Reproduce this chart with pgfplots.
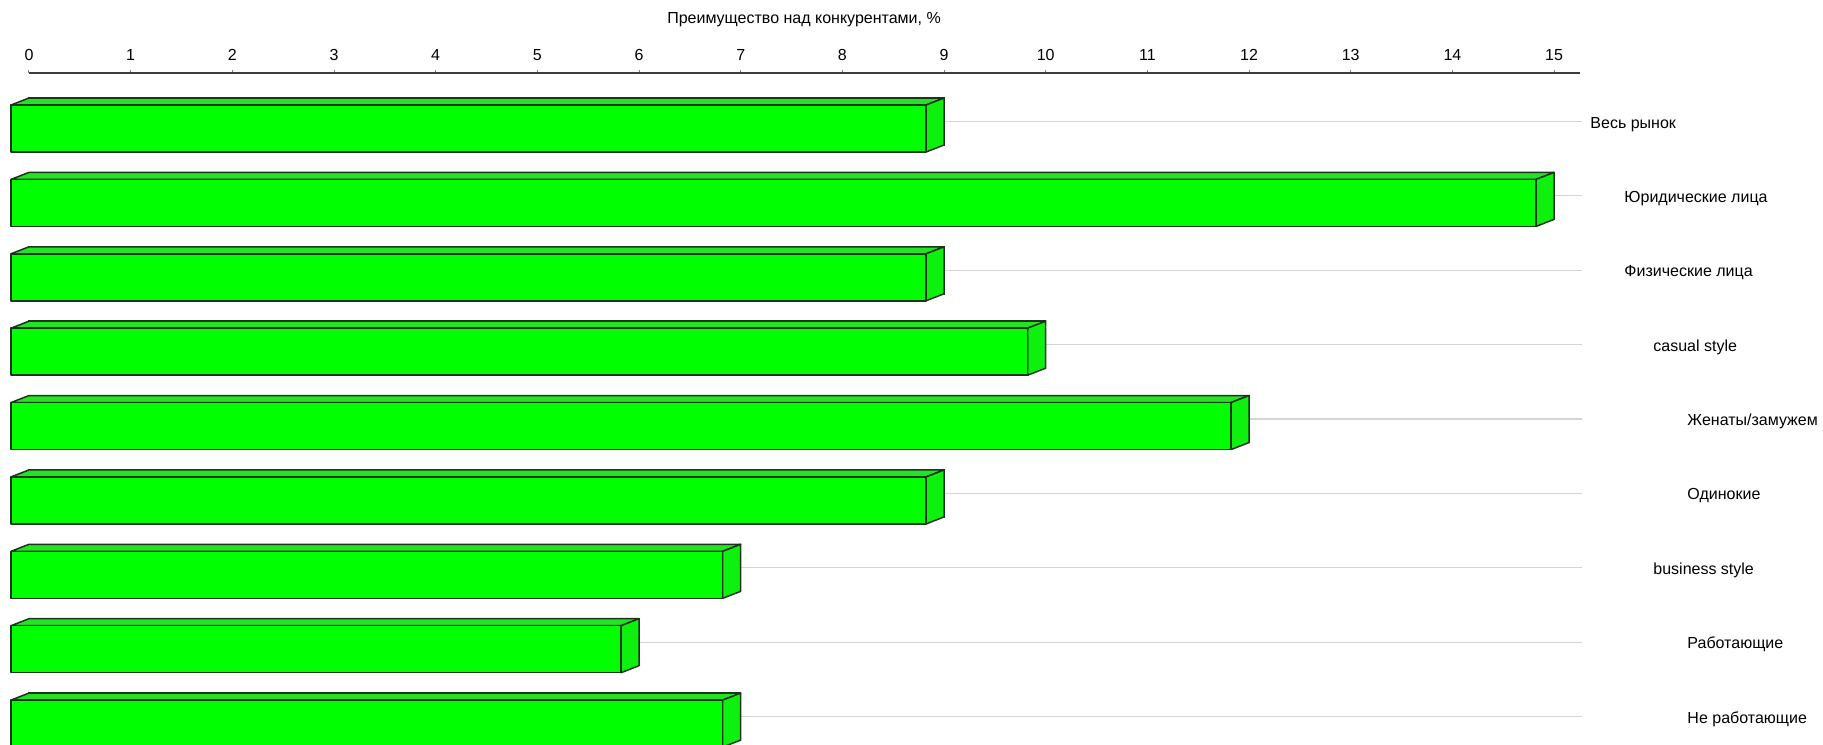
\documentclass[border=0pt]{standalone}
\usepackage{fontspec}
\setmainfont{Liberation Sans}
\usepackage{pgfplots}
\usepackage{pgfplotstable}
\pgfplotsset{compat=1.18}
\definecolor{barfront}{RGB}{0,255,0}
\definecolor{bartop}{RGB}{34,228,34}
\definecolor{barside}{RGB}{14,240,14}
\definecolor{barline}{RGB}{28,52,28}
\definecolor{gridc}{RGB}{212,212,212}
\definecolor{axc}{RGB}{60,60,60}
\pgfplotstableread{
y x
-121.5 9
-195.875 15
-270.25 9
-344.625 10
-419 12
-493.375 9
-567.75 7
-642.125 6
-716.5 7
}\bars
\begin{document}
\begin{tikzpicture}
\begin{axis}[
  x=50.83pt, y=0.5pt,
  xmin=0, xmax=15.255, ymin=-744, ymax=-73,
  enlargelimits=false, clip=false,
  axis x line*=top, axis y line=none,
  x axis line style={-, line width=0.7pt, color=axc},
  xtick={0,1,...,15}, ytick=\empty,
  tick align=outside, major tick length=1.6pt,
  every tick/.style={color=gray, line width=0.5pt},
  /pgf/number format/assume math mode=true,
  xticklabel style={anchor=base, inner sep=0pt, yshift=4.5pt, font=\fontsize{8}{9.6}\selectfont},
]
\addplot[xbar, bar width=23.5pt, draw=barline, fill=barfront, line width=0.75pt] table[x=x, y=y] {\bars};
\foreach \yc/\v in {-121.5/9, -195.875/15, -270.25/9, -344.625/10, -419/12, -493.375/9, -567.75/7, -642.125/6, -716.5/7}{
  \pgfmathsetmacro\xr{\v-0.177}
  \pgfmathsetmacro\ya{\yc+23.5}
  \pgfmathsetmacro\yf{\yc+16.5}
  \pgfmathsetmacro\yb{\yc-23.5}
  \pgfmathsetmacro\yd{\yc-30.5}
  \edef\temp{
    \noexpand\addplot[color=gridc, line width=0.6pt] coordinates {(0,\yc) (15.275,\yc)};
    \noexpand\addplot[draw=barline, fill=bartop, line width=0.75pt, line join=round] coordinates {(-0.177,\yf) (\xr,\yf) (\v,\ya) (0,\ya)} -- cycle;
    \noexpand\addplot[draw=barline, fill=barside, line width=0.75pt, line join=round] coordinates {(\xr,\yf) (\v,\ya) (\v,\yb) (\xr,\yd)} -- cycle;
    \noexpand\addplot[draw=barline, fill=barfront, line width=0.75pt, line join=round] coordinates {(-0.177,\yf) (\xr,\yf) (\xr,\yd) (-0.177,\yd)} -- cycle;
  }
  \temp
}
\begin{scope}[every node/.style={font=\fontsize{8}{9.6}\selectfont, inner sep=0pt, anchor=base west}]
\node at (axis cs:15.354,-128) {Весь рынок};
\node at (axis cs:15.688,-202) {Юридические лица};
\node at (axis cs:15.688,-276) {Физические лица};
\node at (axis cs:15.973,-351) {casual style};
\node at (axis cs:16.308,-425) {Женаты/замужем};
\node at (axis cs:16.308,-499) {Одинокие};
\node at (axis cs:15.973,-574) {business style};
\node at (axis cs:16.308,-648) {Работающие};
\node at (axis cs:16.308,-723) {Не работающие};
\node[anchor=base] at (axis cs:7.623,-24) {Преимущество над конкурентами, \%};
\end{scope}
\coordinate (BL) at (axis cs:-0.2852,-744);
\coordinate (TR) at (axis cs:17.645,0);
\end{axis}
\pgfresetboundingbox
\path[use as bounding box] (BL) rectangle (TR);
\end{tikzpicture}
\end{document}
